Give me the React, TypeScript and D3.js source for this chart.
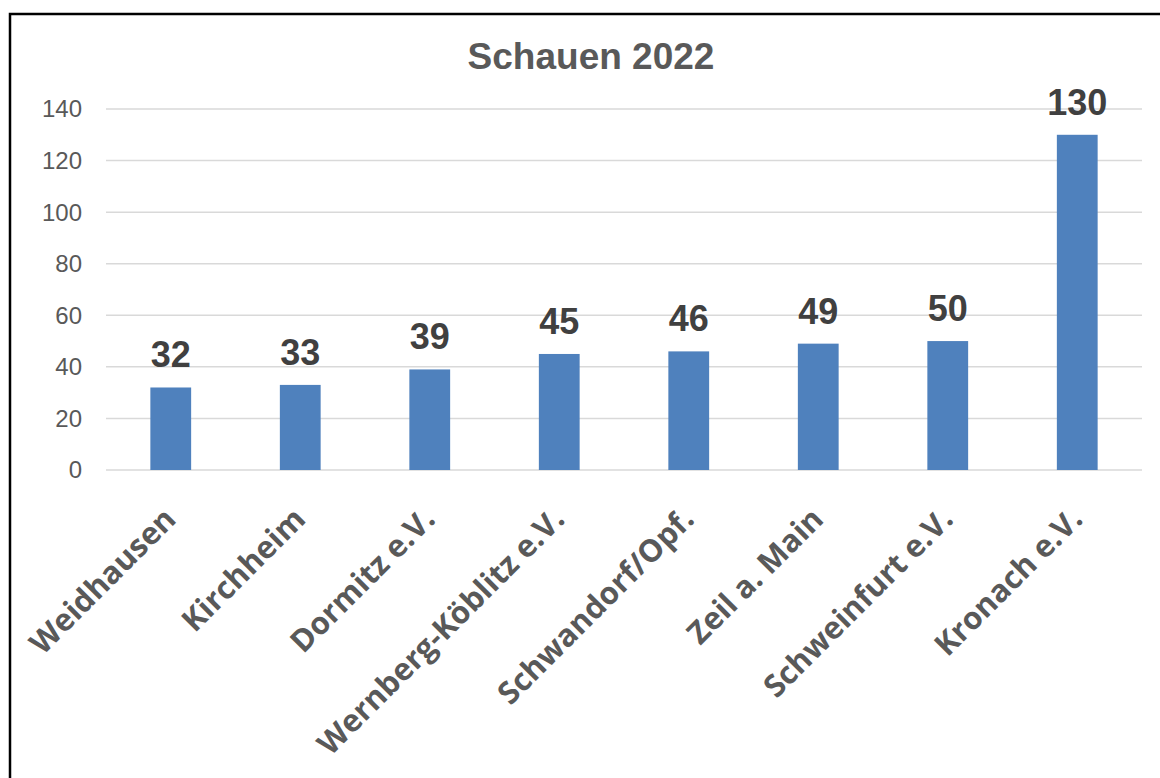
import { useRef, useEffect } from "react";
import * as d3 from "d3";

const categories = [
  "Weidhausen",
  "Kirchheim",
  "Dormitz e.V.",
  "Wernberg-Köblitz e.V.",
  "Schwandorf/Opf.",
  "Zeil a. Main",
  "Schweinfurt e.V.",
  "Kronach e.V.",
];
const values = [32, 33, 39, 45, 46, 49, 50, 130];
const yTicks = [0, 20, 40, 60, 80, 100, 120, 140];
const title = "Schauen 2022";

const App = () => {
  const ref = useRef<SVGSVGElement>(null);

  useEffect(() => {
    const width = 1160;
    const height = 778;
    const margin = { left: 106, right: 18, top: 109, bottom: 308 };

    const svg = d3.select(ref.current);
    svg.selectAll("*").remove();

    // outer frame (cut off at right/bottom in the original)
    svg
      .append("rect")
      .attr("x", 10)
      .attr("y", 14)
      .attr("width", width + 20)
      .attr("height", height + 20)
      .attr("fill", "#fff")
      .attr("stroke", "#000")
      .attr("stroke-width", 2.5);

    const x = d3
      .scaleBand()
      .domain(categories)
      .range([margin.left, width - margin.right])
      .paddingInner(0.685)
      .paddingOuter(0.3425);

    const y = d3
      .scaleLinear()
      .domain([0, 140])
      .range([height - margin.bottom, margin.top]);

    // gridlines
    svg
      .append("g")
      .selectAll("line")
      .data(yTicks)
      .enter()
      .append("line")
      .attr("x1", margin.left)
      .attr("x2", width - margin.right)
      .attr("y1", (d) => y(d))
      .attr("y2", (d) => y(d))
      .attr("stroke", "#d9d9d9")
      .attr("stroke-width", 1.5);

    // y tick labels
    svg
      .append("g")
      .selectAll("text")
      .data(yTicks)
      .enter()
      .append("text")
      .attr("x", 82)
      .attr("y", (d) => y(d))
      .attr("dy", "0.35em")
      .attr("text-anchor", "end")
      .attr("font-family", "Liberation Sans, Arial, sans-serif")
      .attr("font-size", 24)
      .attr("fill", "#595959")
      .text((d) => d);

    // bars
    svg
      .append("g")
      .selectAll("rect")
      .data(values)
      .enter()
      .append("rect")
      .attr("x", (_, i) => x(categories[i]) as number)
      .attr("y", (d) => y(d))
      .attr("width", x.bandwidth())
      .attr("height", (d) => y(0) - y(d))
      .attr("fill", "#4f81bd");

    // data labels
    svg
      .append("g")
      .selectAll("text")
      .data(values)
      .enter()
      .append("text")
      .attr("x", (_, i) => (x(categories[i]) as number) + x.bandwidth() / 2)
      .attr("y", (d) => y(d) - 20)
      .attr("text-anchor", "middle")
      .attr("font-family", "Liberation Sans, Arial, sans-serif")
      .attr("font-weight", "bold")
      .attr("font-size", 36)
      .attr("fill", "#404040")
      .text((d) => d);

    // x labels, rotated
    svg
      .append("g")
      .selectAll("text")
      .data(categories)
      .enter()
      .append("text")
      .attr("transform", (d) => {
        const cx = (x(d) as number) + x.bandwidth() / 2 + 7;
        return `translate(${cx},521) rotate(-45)`;
      })
      .attr("text-anchor", "end")
      .attr("font-family", "Open Sans, sans-serif")
      .attr("font-weight", "bold")
      .attr("font-size", 31)
      .attr("fill", "#595959")
      .text((d) => d);

    // title
    svg
      .append("text")
      .attr("x", 591)
      .attr("y", 69)
      .attr("text-anchor", "middle")
      .attr("font-family", "Liberation Sans, Arial, sans-serif")
      .attr("font-weight", "bold")
      .attr("font-size", 37)
      .attr("fill", "#595959")
      .text(title);
  }, []);

  return (
    <svg
      ref={ref}
      width={1160}
      height={778}
      style={{ position: "absolute", left: 0, top: 0, display: "block" }}
    />
  );
};

export default App;
